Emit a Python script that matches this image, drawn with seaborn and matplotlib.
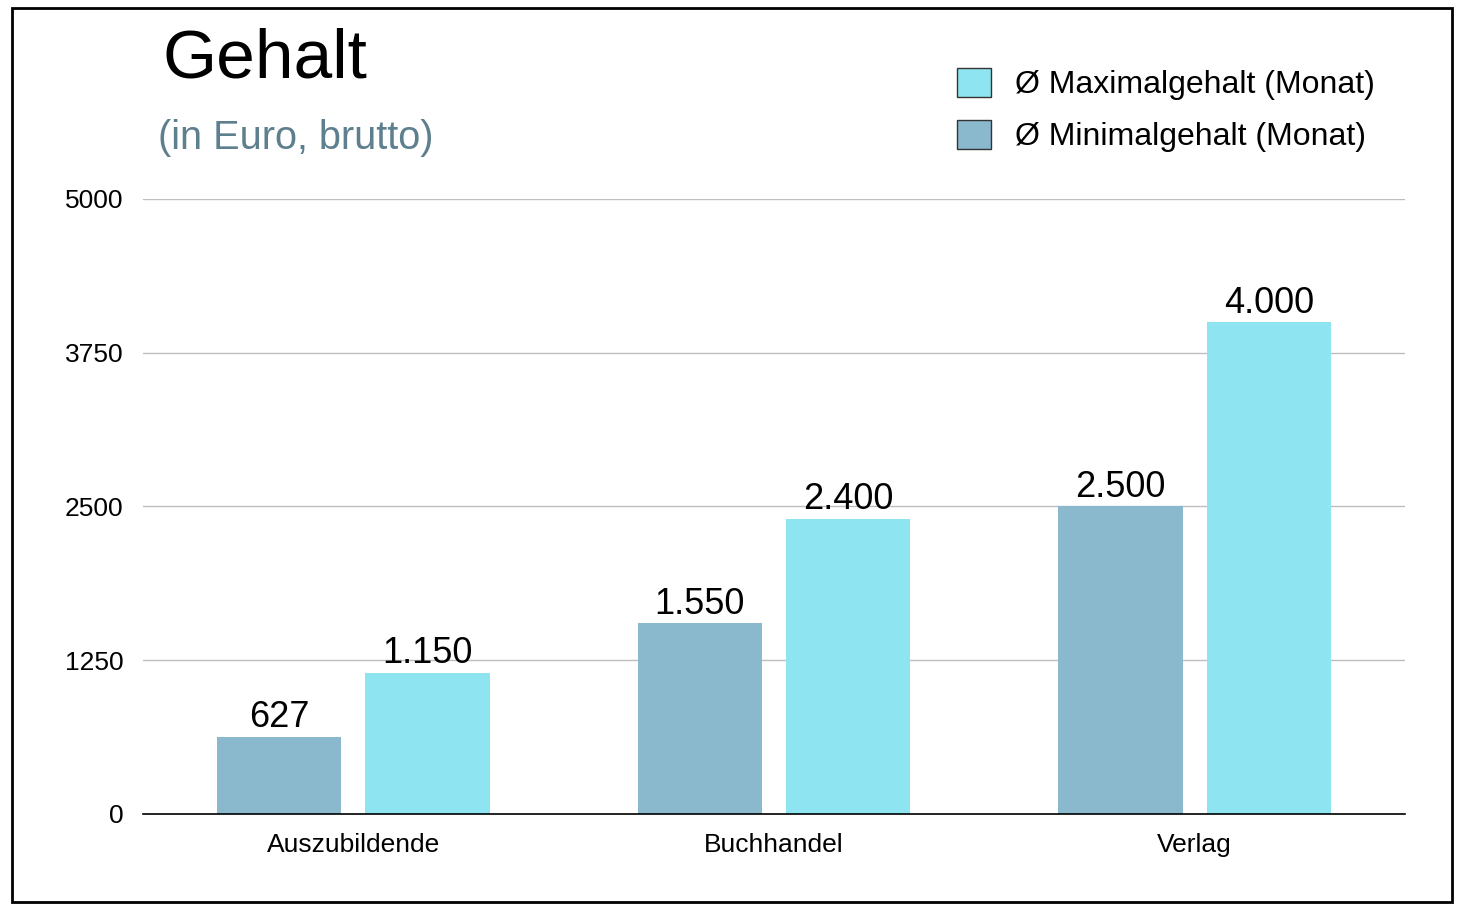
import pandas as pd
import matplotlib
matplotlib.use("Agg")
import matplotlib.pyplot as plt
import matplotlib.patches as mpatches
import seaborn as sns

# data
categories = ["Auszubildende", "Buchhandel", "Verlag"]
min_gehalt = [627, 1550, 2500]
max_gehalt = [1150, 2400, 4000]
series = ["Ø Minimalgehalt (Monat)", "Ø Maximalgehalt (Monat)"]
yticks = [0, 1250, 2500, 3750, 5000]

col_min = "#8AB8CC"
col_max = "#8EE4F0"

df = pd.DataFrame({
    "Kategorie": categories * 2,
    "Serie": [series[0]] * 3 + [series[1]] * 3,
    "Wert": min_gehalt + max_gehalt,
})

sns.set_style("white")
plt.rcParams["font.family"] = ["Liberation Sans", "DejaVu Sans"]
plt.rcParams["text.color"] = "black"
plt.rcParams["xtick.color"] = "black"
plt.rcParams["ytick.color"] = "black"

fig = plt.figure(figsize=(14.64, 9.16), dpi=100)
ax = fig.add_axes([0.0977, 0.1114, 0.862, 0.6714])

sns.barplot(data=df, x="Kategorie", y="Wert", hue="Serie",
            order=categories, hue_order=series,
            palette=[col_min, col_max], saturation=1, width=0.705, gap=0.163,
            linewidth=0, legend=False, ax=ax)

def de_fmt(v):
    return f"{v:,}".replace(",", ".")

for cont in ax.containers:
    ax.bar_label(cont, labels=[de_fmt(int(b.get_height())) for b in cont],
                 fontsize=26, padding=1, color="black")

ax.set_xlim(-0.5, 2.5)
ax.set_ylim(0, 5000)
ax.set_yticks(yticks)
ax.set_yticklabels([str(t) for t in yticks])
ax.set_xlabel("")
ax.set_ylabel("")
ax.grid(axis="y", color="#BDBDBD", linewidth=1)
ax.set_axisbelow(True)
for s in ["top", "right", "left"]:
    ax.spines[s].set_visible(False)
ax.spines["bottom"].set_color("black")
ax.spines["bottom"].set_linewidth(1.2)
ax.tick_params(axis="y", length=0, pad=14, labelsize=19)
ax.tick_params(axis="x", length=0, pad=14, labelsize=19)

# titles
fig.text(0.111, 0.915, "Gehalt", fontsize=50, color="black", va="baseline")
fig.text(0.108, 0.837, "(in Euro, brutto)", fontsize=28.5, color="#5E7F8E", va="baseline")

# legend
handles = [
    mpatches.Patch(facecolor=col_max, edgecolor="#333333", linewidth=1, label=series[1]),
    mpatches.Patch(facecolor=col_min, edgecolor="#333333", linewidth=1, label=series[0]),
]
fig.legend(handles=handles, loc="upper left", bbox_to_anchor=(0.645, 0.94),
           frameon=False, fontsize=23, handlelength=1.05, handleheight=1.05,
           handletextpad=0.75, labelspacing=0.6, borderaxespad=0)

# frame around the figure
fig.patches.append(mpatches.Rectangle((12 / 1464, 1 - 902 / 916), 1440 / 1464, 894 / 916,
                                      transform=fig.transFigure, fill=False,
                                      edgecolor="black", linewidth=2))

fig.savefig("out.png", dpi=100)
